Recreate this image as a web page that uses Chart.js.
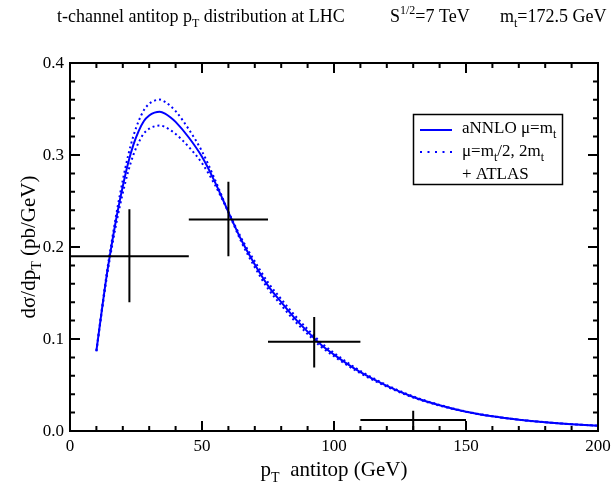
<!DOCTYPE html>
<html><head><meta charset="utf-8">
<script src="https://cdn.jsdelivr.net/npm/chart.js@4.4.0/dist/chart.umd.min.js"></script>
<style>html,body{margin:0;padding:0;background:#fff;}</style>
</head><body>
<canvas id="c" width="616" height="483"></canvas>
<script>
// ---- data ----
const ptGrid = [10,12,14,16,18,20,22,24,26,28,30,32,34,36,38,40,45,50,55,60,65,70,75,80,85,90,95,100,105,110,120,130,140,150,160,170,180,190,200];
const aNNLO  = [0.087,0.130,0.171,0.206,0.238,0.266,0.291,0.311,0.326,0.337,0.343,0.346,0.347,0.345,0.341,0.336,0.319,0.298,0.270,0.238,0.207,0.181,0.158,0.140,0.123,0.108,0.094,0.083,0.073,0.064,0.049,0.037,0.028,0.021,0.016,0.0123,0.0095,0.0074,0.0058];
const muHalf = [0.0874,0.1312,0.1732,0.2095,0.2430,0.2727,0.2991,0.3206,0.3368,0.3488,0.3557,0.3591,0.3602,0.3578,0.3533,0.3478,0.3279,0.3040,0.2727,0.2380,0.2049,0.1779,0.1547,0.1368,0.1200,0.1054,0.0918,0.0812,0.0715,0.0627,0.0482,0.0364,0.0276,0.0208,0.0159,0.0122,0.0094,0.0074,0.0058];
const muTwo  = [0.0866,0.1287,0.1684,0.2019,0.2323,0.2586,0.2817,0.3001,0.3136,0.3235,0.3286,0.3311,0.3321,0.3305,0.3270,0.3229,0.3088,0.2911,0.2670,0.2380,0.2091,0.1843,0.1615,0.1434,0.1261,0.1107,0.0963,0.0849,0.0746,0.0653,0.0499,0.0376,0.0284,0.0212,0.0161,0.0124,0.0096,0.0074,0.0058];

const atlasX   = [22.5, 60, 92.5, 130];
const atlasY   = [0.190, 0.230, 0.097, 0.012];
const atlasXLo = [0, 45, 75, 110];
const atlasXHi = [45, 75, 110, 150];
const atlasYLo = [0.140, 0.190, 0.069, 0.0];
const atlasYHi = [0.241, 0.271, 0.124, 0.022];

const xMajorTicks = [0, 50, 100, 150, 200];
const xTickLabels = ['0', '50', '100', '150', '200'];
const xMinorTicks = [10,20,30,40,60,70,80,90,110,120,130,140,160,170,180,190];
const yMajorTicks = [0, 0.1, 0.2, 0.3, 0.4];
const yTickLabels = ['0.0', '0.1', '0.2', '0.3', '0.4'];
const yMinorTicks = [0.02,0.04,0.06,0.08,0.12,0.14,0.16,0.18,0.22,0.24,0.26,0.28,0.32,0.34,0.36,0.38];

const BLUE = '#0000ff';
const SERIF = '"Liberation Serif", "DejaVu Serif", serif';

function pts(ys){ return ptGrid.map((x,i)=>({x:x, y:ys[i]})); }

function richWidth(ctx, parts, size){
  let w = 0;
  for (const p of parts){
    const s = p.s ? Math.round(size*0.68) : size;
    ctx.font = s + 'px ' + SERIF;
    w += ctx.measureText(p.t).width;
  }
  return w;
}
function drawRich(ctx, parts, x, y, size){
  let cx = x;
  for (const p of parts){
    const s = p.s ? Math.round(size*0.68) : size;
    ctx.font = s + 'px ' + SERIF;
    let dy = 0;
    if (p.s === 'sub') dy = size*0.30;
    if (p.s === 'sup') dy = -size*0.42;
    ctx.fillText(p.t, cx, y + dy);
    cx += ctx.measureText(p.t).width;
  }
  return cx - x;
}

const decor = {
  id: 'decor',
  afterDatasetsDraw(chart){
    const {ctx, chartArea:a, scales:{x, y}} = chart;
    ctx.save();
    // ATLAS error crosses
    ctx.strokeStyle = '#000'; ctx.lineWidth = 2; ctx.lineCap = 'butt';
    for (let i=0;i<atlasX.length;i++){
      const px = x.getPixelForValue(atlasX[i]);
      const py = y.getPixelForValue(atlasY[i]);
      ctx.beginPath();
      ctx.moveTo(x.getPixelForValue(atlasXLo[i]), py);
      ctx.lineTo(x.getPixelForValue(atlasXHi[i]), py);
      ctx.moveTo(px, y.getPixelForValue(atlasYLo[i]));
      ctx.lineTo(px, y.getPixelForValue(atlasYHi[i]));
      ctx.stroke();
    }
    // frame
    ctx.lineWidth = 2;
    ctx.strokeRect(a.left, a.top, a.right - a.left, a.bottom - a.top);
    // ticks (inward, all four sides)
    ctx.beginPath();
    const tick = (v, len, axis) => {
      if (axis === 'x'){
        const p = x.getPixelForValue(v);
        ctx.moveTo(p, a.bottom); ctx.lineTo(p, a.bottom - len);
        ctx.moveTo(p, a.top); ctx.lineTo(p, a.top + len);
      } else {
        const p = y.getPixelForValue(v);
        ctx.moveTo(a.left, p); ctx.lineTo(a.left + len, p);
        ctx.moveTo(a.right, p); ctx.lineTo(a.right - len, p);
      }
    };
    xMajorTicks.forEach(v=>tick(v, 10, 'x'));
    xMinorTicks.forEach(v=>tick(v, 5, 'x'));
    yMajorTicks.forEach(v=>tick(v, 10, 'y'));
    yMinorTicks.forEach(v=>tick(v, 5, 'y'));
    ctx.stroke();

    // tick labels
    ctx.fillStyle = '#000';
    ctx.font = '17px ' + SERIF;
    ctx.textAlign = 'center'; ctx.textBaseline = 'alphabetic';
    xMajorTicks.forEach((v,i)=>ctx.fillText(xTickLabels[i], x.getPixelForValue(v), 451));
    ctx.textAlign = 'right'; ctx.textBaseline = 'middle';
    yMajorTicks.forEach((v,i)=>ctx.fillText(yTickLabels[i], a.left - 6, y.getPixelForValue(v) + 1));

    ctx.textAlign = 'left'; ctx.textBaseline = 'alphabetic';
    // x axis title
    const xt = [{t:'p'},{t:'T',s:'sub'},{t:'  antitop (GeV)'}];
    const xw = richWidth(ctx, xt, 21);
    drawRich(ctx, xt, (a.left + a.right)/2 - xw/2, 476, 21);
    // y axis title
    const yt = [{t:'d\u03c3/dp'},{t:'T',s:'sub'},{t:' (pb/GeV)'}];
    const yw = richWidth(ctx, yt, 21);
    ctx.save();
    ctx.translate(35, (a.top + a.bottom)/2);
    ctx.rotate(-Math.PI/2);
    drawRich(ctx, yt, -yw/2, 0, 21);
    ctx.restore();

    // title
    drawRich(ctx, [{t:'t-channel antitop p'},{t:'T',s:'sub'},{t:' distribution at LHC'}], 57, 22, 18);
    drawRich(ctx, [{t:'S'},{t:'1/2',s:'sup'},{t:'=7 TeV'}], 390, 22, 18);
    drawRich(ctx, [{t:'m'},{t:'t',s:'sub'},{t:'=172.5 GeV'}], 500, 22, 18);

    // legend
    ctx.lineWidth = 1.5; ctx.strokeStyle = '#000';
    ctx.strokeRect(413.5, 114.5, 149, 70);
    ctx.strokeStyle = BLUE; ctx.lineWidth = 2;
    ctx.beginPath(); ctx.moveTo(420, 130); ctx.lineTo(452, 130); ctx.stroke();
    ctx.setLineDash([2, 5.5]);
    ctx.beginPath(); ctx.moveTo(420, 152); ctx.lineTo(452, 152); ctx.stroke();
    ctx.setLineDash([]);
    ctx.fillStyle = '#000';
    drawRich(ctx, [{t:'aNNLO \u03bc=m'},{t:'t',s:'sub'}], 462, 133, 17);
    drawRich(ctx, [{t:'\u03bc=m'},{t:'t',s:'sub'},{t:'/2, 2m'},{t:'t',s:'sub'}], 462, 156, 17);
    drawRich(ctx, [{t:'+ ATLAS'}], 462, 179, 17);
    ctx.restore();
  }
};

new Chart(document.getElementById('c'), {
  type: 'line',
  data: {
    datasets: [
      {label:'mu=mt/2', data: pts(muHalf), borderColor: BLUE, borderWidth: 2, borderDash:[2,3], pointRadius:0, fill:false, cubicInterpolationMode:'monotone'},
      {label:'mu=2mt', data: pts(muTwo), borderColor: BLUE, borderWidth: 2, borderDash:[2,3], pointRadius:0, fill:false, cubicInterpolationMode:'monotone'},
      {label:'aNNLO', data: pts(aNNLO), borderColor: BLUE, borderWidth: 2, pointRadius:0, fill:false, cubicInterpolationMode:'monotone'}
    ]
  },
  options: {
    responsive: false,
    animation: false,
    devicePixelRatio: 1,
    layout: {padding: {left:70, right:18, top:63, bottom:52}},
    scales: {
      x: {type:'linear', min:0, max:200, display:false},
      y: {type:'linear', min:0, max:0.4, display:false}
    },
    plugins: {legend:{display:false}, tooltip:{enabled:false}, title:{display:false}}
  },
  plugins: [decor]
});
</script>
</body></html>
